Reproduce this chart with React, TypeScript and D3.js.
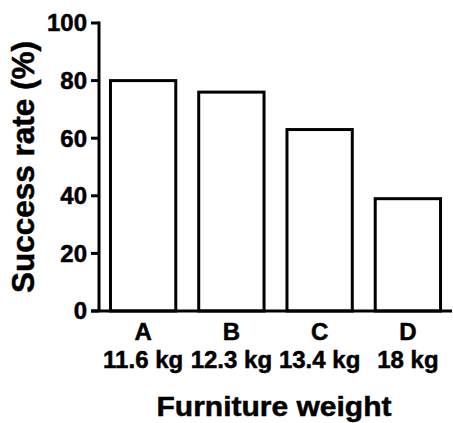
import React from "react";
import * as d3 from "d3";

const categories = ["A", "B", "C", "D"];
const weights = ["11.6 kg", "12.3 kg", "13.4 kg", "18 kg"];
const successRates = [80, 76, 63, 39];
const yTicks = [0, 20, 40, 60, 80, 100];

const W = 453;
const H = 423;
const FONT = "Liberation Sans, Arial, Helvetica, sans-serif";

export default function App() {
  const x = d3
    .scaleBand<string>()
    .domain(categories)
    .range([99, 452])
    .paddingInner(0.26)
    .paddingOuter(0.13);
  const y = d3.scaleLinear().domain([0, 100]).range([311, 23]);
  const axisX = x.range()[0];

  return (
    <svg
      width={W}
      height={H}
      style={{ position: "absolute", left: 0, top: 0, background: "#fff" }}
      fontFamily={FONT}
      fontWeight="bold"
    >
      {/* bars */}
      {categories.map((c, i) => (
        <rect
          key={c}
          x={x(c)}
          y={y(successRates[i])}
          width={x.bandwidth()}
          height={y(0) - y(successRates[i])}
          fill="#fff"
          stroke="#000"
          strokeWidth={3}
        />
      ))}

      {/* y axis */}
      <line x1={axisX} x2={axisX} y1={y(100) - 1.5} y2={y(0)} stroke="#000" strokeWidth={3} />
      {yTicks.map((t) => (
        <g key={t}>
          <line x1={axisX - 8} x2={axisX} y1={y(t)} y2={y(t)} stroke="#000" strokeWidth={3} />
          <text
            x={axisX - 12}
            y={y(t)}
            dy="0.35em"
            textAnchor="end"
            fontSize={24}
            fill="#000"
            stroke="#000"
            strokeWidth={0.5}
          >
            {t}
          </text>
        </g>
      ))}

      {/* x axis */}
      <line x1={axisX - 8} x2={452} y1={y(0)} y2={y(0)} stroke="#000" strokeWidth={3} />
      {categories.map((c, i) => {
        const cx = (x(c) as number) + x.bandwidth() / 2;
        return (
          <g key={c} fontSize={24} fill="#000" stroke="#000" strokeWidth={0.5} textAnchor="middle">
            <text x={cx} y={340}>{c}</text>
            <text x={cx} y={368}>{weights[i]}</text>
          </g>
        );
      })}

      {/* axis titles */}
      <text
        x={274}
        y={416}
        textAnchor="middle"
        fontSize={28}
        textLength={235}
        lengthAdjust="spacingAndGlyphs"
        fill="#000"
        stroke="#000"
        strokeWidth={0.5}
      >
        Furniture weight
      </text>
      <text
        transform="translate(34, 167) rotate(-90)"
        textAnchor="middle"
        fontSize={31}
        textLength={252}
        lengthAdjust="spacingAndGlyphs"
        fill="#000"
        stroke="#000"
        strokeWidth={0.5}
      >
        Success rate (%)
      </text>
    </svg>
  );
}
